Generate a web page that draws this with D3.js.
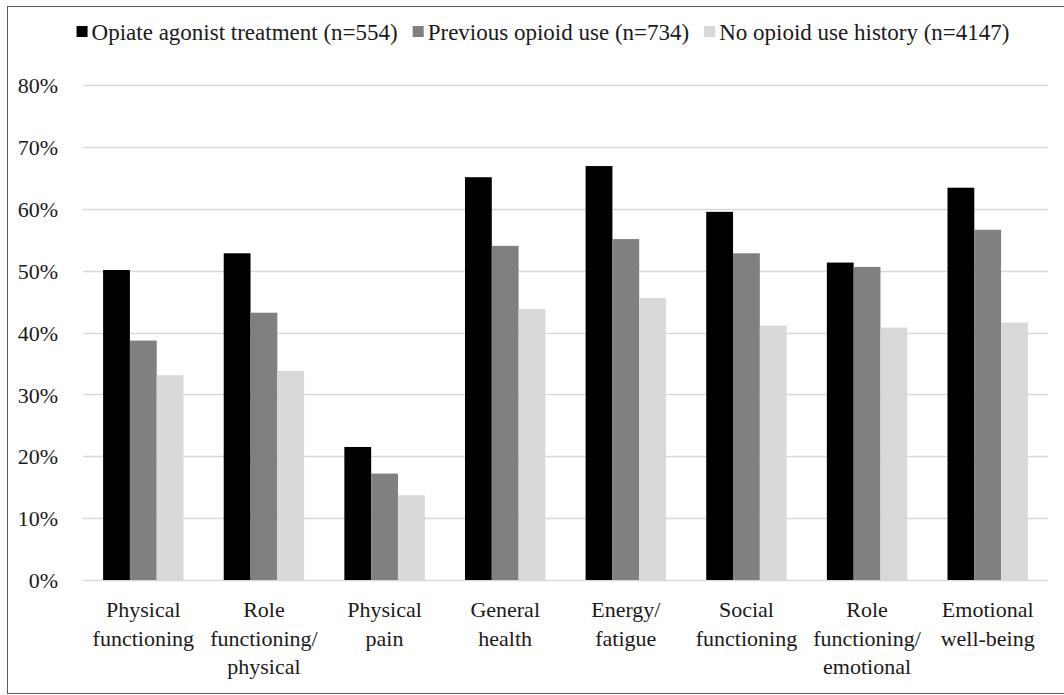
<!DOCTYPE html>
<html>
<head>
<meta charset="utf-8">
<script src="https://cdn.jsdelivr.net/npm/d3@7"></script>
<style>
  body { margin: 0; background: #fff; }
  svg text { font-family: 'Liberation Serif', 'Times New Roman', serif !important; fill: #1a1a1a; }
</style>
</head>
<body>
<div id="chart"></div>
<script>
var categories = ["Physical\nfunctioning", "Role\nfunctioning/\nphysical", "Physical\npain",
                  "General\nhealth", "Energy/\nfatigue", "Social\nfunctioning",
                  "Role\nfunctioning/\nemotional", "Emotional\nwell-being"];
var seriesNames = ["Opiate agonist treatment (n=554)", "Previous opioid use (n=734)",
                   "No opioid use history (n=4147)"];
var oat = [50.1, 52.8, 21.5, 65.1, 66.9, 59.5, 51.3, 63.4];
var previous = [38.7, 43.2, 17.2, 54.0, 55.1, 52.8, 50.6, 56.6];
var noHistory = [33.1, 33.8, 13.7, 43.8, 45.6, 41.1, 40.8, 41.6];
var yTicks = [0, 10, 20, 30, 40, 50, 60, 70, 80];
var colors = ["#000000", "#808080", "#d9d9d9"];

var W = 1064, H = 695;
var margin = {top: 85, right: 16, bottom: 115, left: 83};
var width = W - margin.left - margin.right;
var height = H - margin.top - margin.bottom;
var serif = "'Liberation Serif', 'Times New Roman', serif";

var svg = d3.select("#chart").append("svg")
    .attr("width", W)
    .attr("height", H)
    .attr("font-family", serif);

// outer frame
svg.append("rect")
    .attr("x", 7.5).attr("y", 6.5)
    .attr("width", W + 10).attr("height", 687)
    .attr("fill", "none")
    .attr("stroke", "#595959")
    .attr("stroke-width", 1);

var g = svg.append("g")
    .attr("transform", "translate(" + margin.left + "," + margin.top + ")");

var y = d3.scaleLinear().domain([0, 80]).range([height, 0]);
var x0 = d3.scaleBand().domain(categories).range([0, width]);
var bw = x0.bandwidth();
var x1 = d3.scaleBand().domain([0, 1, 2]).range([bw / 6, bw * 5 / 6]);

// gridlines
g.append("g").selectAll("line")
    .data(yTicks)
    .enter().append("line")
    .attr("x1", 0).attr("x2", width)
    .attr("y1", d => Math.round(y(d)) + 0.5)
    .attr("y2", d => Math.round(y(d)) + 0.5)
    .attr("stroke", "#d9d9d9")
    .attr("stroke-width", 1.3);

// y axis labels
var yAxis = g.append("g")
    .call(d3.axisLeft(y).tickValues(yTicks).tickSize(0).tickPadding(25)
      .tickFormat(d => d + "%"));
yAxis.attr("font-family", serif);
yAxis.select(".domain").remove();
yAxis.selectAll("text")
    .style("font-size", "22px")
    .style("font-family", serif)
    .attr("dy", "0.35em");

var series = [oat, previous, noHistory];
var groups = g.append("g").selectAll("g")
    .data(categories)
    .enter().append("g")
    .attr("transform", d => "translate(" + x0(d) + ",0)");

groups.selectAll("rect")
    .data((d, i) => series.map((s, k) => ({k: k, v: s[i]})))
    .enter().append("rect")
    .attr("x", d => x1(d.k))
    .attr("width", x1.bandwidth())
    .attr("y", d => y(d.v))
    .attr("height", d => height - y(d.v))
    .attr("fill", d => colors[d.k]);

// x axis labels
var xl = g.append("g").attr("transform", "translate(0," + height + ")");
xl.selectAll("text")
    .data(categories)
    .enter().append("text")
    .attr("x", d => x0(d) + bw / 2)
    .attr("y", 37)
    .attr("text-anchor", "middle")
    .style("font-size", "22px")
    .style("font-family", serif)
    .each(function(d) {
      var lines = d.split("\n");
      d3.select(this).selectAll("tspan")
        .data(lines)
        .enter().append("tspan")
        .attr("x", x0(d) + bw / 2)
        .attr("dy", (l, i) => i === 0 ? 0 : 28.5)
        .text(l => l);
    });

// legend
var legend = svg.append("g");
var items = legend.selectAll("g")
    .data(seriesNames)
    .enter().append("g");
items.append("rect")
    .attr("width", 11).attr("height", 11)
    .attr("y", -14)
    .attr("fill", (d, i) => colors[i]);
items.append("text")
    .attr("x", 15)
    .style("font-size", "23px")
    .style("font-family", serif)
    .text(d => d);
var pos = 0, offsets = [];
items.each(function() {
  offsets.push(pos);
  pos += 15 + d3.select(this).select("text").node().getComputedTextLength() + 15;
});
var total = pos - 15;
var startX = 543 - total / 2;
items.attr("transform", (d, i) => "translate(" + (startX + offsets[i]) + ",40)");
</script>
</body>
</html>
